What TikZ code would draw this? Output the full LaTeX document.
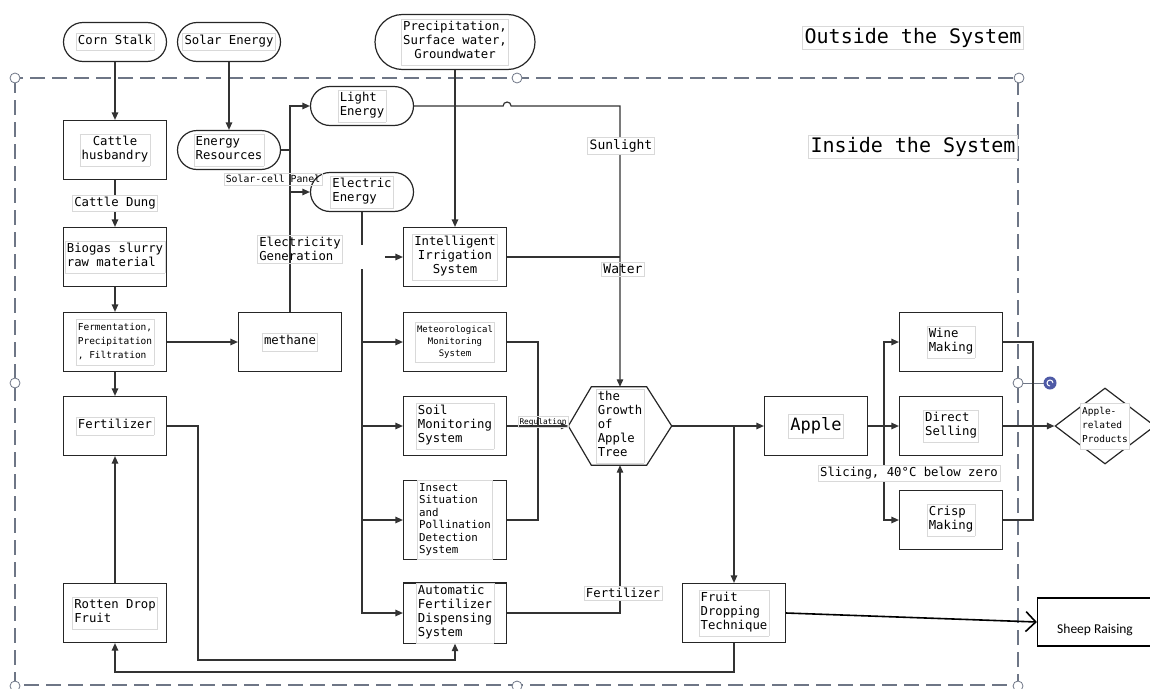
\documentclass[tikz,border=0pt]{standalone}
\usepackage{fontspec}
\setmainfont{DejaVu Sans Mono}
\newfontfamily\sheepfont{Carlito}
\usetikzlibrary{positioning, arrows.meta, shapes.geometric}

\definecolor{framegray}{HTML}{6E7686}
\definecolor{handleblue}{HTML}{4E5AA6}

% text of a box, in the faint frame of the original text boxes
\newcommand{\tb}[2][l]{{\setlength{\fboxsep}{1.5pt}\setlength{\fboxrule}{0.6pt}%
  \fcolorbox{black!15}{white}{\begin{tabular}{@{}#1@{}}#2\end{tabular}}}}

\begin{document}
\begin{tikzpicture}[x=1pt, y=-1pt,
    font=\fontsize{12.3}{14}\selectfont,
    >={Triangle[length=7.5pt,width=6.5pt]},
    box/.style={draw=black!85, line width=1.2pt, rectangle, minimum width=103pt, minimum height=59pt, inner sep=0pt},
    pill/.style={draw=black!85, line width=1.2pt, rectangle, rounded corners=19.5pt, minimum width=103pt, minimum height=39pt, inner sep=0pt},
    lbl/.style={draw=black!15, line width=0.5pt, inner sep=2pt, align=left},
    con/.style={draw=black!80, line width=1.2pt},
    handle/.style={draw=framegray, line width=0.8pt, fill=white}
  ]
  \useasboundingbox (0,0) rectangle (1150,688);

  % system boundary
  \draw[framegray, line width=1.8pt, dash pattern=on 15pt off 7pt] (15,78) rectangle (1018,685);
  \foreach \x/\y in {15/78, 517/78, 1019/78, 15/383, 1018/383, 15/686, 517/686, 1018/686}
    \draw[handle] (\x,\y) circle[radius=5pt];
  \draw[framegray, line width=0.8pt] (1023,383) -- (1044,383);
  \fill[handleblue] (1050,383) circle[radius=6.5pt];
  \draw[white, line width=1pt] (1053,383) arc[start angle=0, end angle=270, radius=3pt];

  % outside
  \node[pill] (corn) at (115,42) {\tb{Corn Stalk}};
  \node[pill] (solar) at (229,42) {\tb{Solar Energy}};
  \node[pill, rounded corners=27.5pt, minimum width=160pt, minimum height=55pt] (precip) at (455,42)
    {\tb[c]{Precipitation,\\Surface water,\\Groundwater}};
  \node[lbl, font=\fontsize{20}{24}\selectfont] (outside) at (913,38) {Outside the System};
  \node[lbl, font=\fontsize{20}{24}\selectfont] (inside) at (913,147) {Inside the System};

  % left column
  \node[box] (cattle) at (115,150) {\tb[c]{Cattle\\husbandry}};
  \node[box] (biogas) at (115,257) {\tb{Biogas slurry\\raw material}};
  \node[box, font=\fontsize{9.5}{14}\selectfont] (ferm) at (115,342) {\tb{Fermentation,\\Precipitation\\, Filtration}};
  \node[box] (fert) at (115,426) {\tb{Fertilizer}};
  \node[box] (rotten) at (115,613) {\tb{Rotten Drop\\Fruit}};

  % energy
  \node[pill] (energy) at (229,150) {\tb{Energy\\Resources}};
  \node[pill] (light) at (362,106) {\tb{Light\\Energy}};
  \node[pill] (elec) at (362,192) {\tb{Electric\\Energy}};
  \node[box] (methane) at (290,342) {\tb{methane}};

  % systems
  \node[box] (irr) at (455,257) {\tb[c]{Intelligent\\Irrigation\\System}};
  \node[box, font=\fontsize{9}{12}\selectfont] (meteor) at (455,342) {\tb[c]{Meteorological\\Monitoring\\System}};
  \node[box] (soil) at (455,426) {\tb{Soil\\Monitoring\\System}};
  \node[box, minimum height=78pt, font=\fontsize{10.8}{12.5}\selectfont] (insect) at (455,520)
    {\tb{Insect\\Situation\\and\\Pollination\\Detection\\System}};
  \node[box] (auto) at (455,613) {\tb{Automatic\\Fertilizer\\Dispensing\\System}};

  % apple tree
  \node[minimum width=103pt, minimum height=78pt, inner sep=0pt] (grow) at (620,426)
    {\tb{the\\Growth\\ of\\Apple\\Tree}};
  \draw[black!85, line width=1.2pt] (grow.west) -- ([xshift=23pt]grow.north west) -- ([xshift=-25pt]grow.north east)
    -- (grow.east) -- ([xshift=-25pt]grow.south east) -- ([xshift=23pt]grow.south west) -- cycle;
  \node[box] (fruit) at (734,613) {\tb{Fruit\\Dropping\\Technique}};

  % products
  \node[box, font=\fontsize{17}{20}\selectfont] (apple) at (816,426) {\tb{Apple}};
  \node[box] (wine) at (951,342) {\tb{Wine\\Making}};
  \node[box] (direct) at (951,426) {\tb{Direct\\Selling}};
  \node[box] (crisp) at (951,520) {\tb{Crisp\\Making}};
  \node[diamond, draw=black!85, line width=1.2pt, minimum width=100pt, minimum height=76pt, inner sep=0pt,
    label={[font=\fontsize{9.5}{14}\selectfont]center:\tb{Apple-\\related\\Products}}] (prod) at (1105,426) {};
  \node[draw=black, line width=1.2pt, minimum width=115pt, minimum height=48pt, text height=24pt, text depth=2pt,
    font=\sheepfont\fontsize{13.5}{15}\selectfont] (sheep) at (1095,622) {Sheep Raising};

  % connectors
  \coordinate (split) at (methane.north |- energy.east);
  \coordinate (etop) at ([yshift=-33pt]elec.south);
  \coordinate (ebot) at ([yshift=-57pt]elec.south);
  \coordinate (regj) at (538,426);
  \coordinate (fl) at (198,660);
  \coordinate (fb) at (734,672);
  \coordinate (aj) at (884,426);
  \coordinate (pj) at (1033,426);

  \draw[con,->] (corn) -- (cattle);
  \draw[con,->] (solar) -- (energy);
  \draw[con,->] (precip) -- (irr);
  \draw[con,->] (cattle) -- (biogas);
  \draw[con,->] (biogas) -- (ferm);
  \draw[con,->] (ferm) -- (fert);
  \draw[con,->] (ferm) -- (methane);
  \draw[con,->] (rotten) -- (fert);
  \draw[con,->] (fert.east) -| (fl) -| (auto.south);
  \draw[con,->] (fruit.south) -- (fb) -| (rotten.south);

  \draw[con] (energy.east) -- (split);
  \draw[con,->] (split) |- (light.west);
  \draw[con,->] (split) |- (elec.west);
  \draw[con] (methane.north) -- (methane.north |- elec.west);

  \draw[con] (elec.south) -- (etop);
  \draw[con,->] (ebot) |- (auto.west);
  \draw[con,->] ([xshift=-18pt]irr.west) -- (irr.west);
  \draw[con,->] (elec.south |- meteor.west) -- (meteor.west);
  \draw[con,->] (elec.south |- soil.west) -- (soil.west);
  \draw[con,->] (elec.south |- insect.west) -- (insect.west);

  \draw[con] (meteor.east) -| (regj);
  \draw[con] (insect.east) -| (regj);
  \draw[con,->] (soil) -- (grow.west);
  \draw[con,->] (light.east) -- ([xshift=89pt]light.east) arc[start angle=180, end angle=0, radius=4pt] -| (grow.north);
  \draw[con] (irr.east) -- (irr.east -| grow.north);
  \draw[con,->] (auto.east) -| (grow.south);

  \draw[con,->] (grow.east) -- (apple.west);
  \draw[con,->] (grow.east -| fruit.north) -- (fruit.north);
  \draw[black, line width=1.6pt, -{Straight Barb[length=10pt,width=20pt]}] (fruit.east) -- (sheep.west);

  \draw[con] (apple.east) -- (aj);
  \draw[con,->] (aj) |- (wine.west);
  \draw[con,->] (aj) -- (direct.west);
  \draw[con,->] (aj) |- (crisp.west);
  \draw[con] (wine.east) -| (pj);
  \draw[con] (crisp.east) -| (pj);
  \draw[con,->] (direct) -- (prod.west);

  % labels
  \node[lbl, fill=white] (dung) at (115,203) {Cattle Dung};
  \node[lbl, font=\fontsize{9.8}{12}\selectfont] (panel) at (273,179) {Solar-cell Panel};
  \node[lbl] (gen) at (300,249) {Electricity\\Generation};
  \node[lbl, fill=white, font=\fontsize{13}{15}\selectfont] (sun) at (621,146) {Sunlight};
  \node[lbl, font=\fontsize{13}{15}\selectfont] (water) at (623,269) {Water};
  \node[lbl, fill=white] (fertlbl) at (623,593) {Fertilizer};
  \node[lbl, font=\fontsize{7.8}{9}\selectfont, inner sep=1.5pt] (reg) at (543,422) {Regulation};
  \node[lbl, fill=white] (slice) at (909,473) {Slicing, 40°C below zero};
\end{tikzpicture}
\end{document}
